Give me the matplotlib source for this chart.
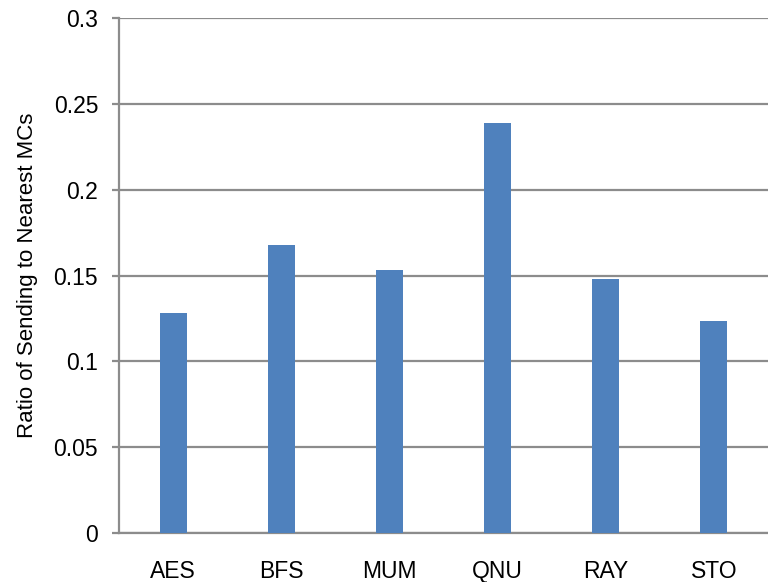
import matplotlib.pyplot as plt

plt.rcParams['font.family'] = ['Liberation Sans', 'DejaVu Sans']

benchmarks = ['AES', 'BFS', 'MUM', 'QNU', 'RAY', 'STO']
ratios = [0.128, 0.168, 0.153, 0.239, 0.148, 0.1235]
yticks = [0, 0.05, 0.1, 0.15, 0.2, 0.25, 0.3]
ytick_labels = ['0', '0.05', '0.1', '0.15', '0.2', '0.25', '0.3']

fig = plt.figure(figsize=(7.68, 5.82), dpi=100)
ax = fig.add_axes([0.155, 0.084, 0.845, 0.885])

grid_col = '#8c8c8c'
ax.bar(range(len(benchmarks)), ratios, width=0.25, color='#4f81bd', zorder=3)

ax.set_xlim(-0.5, len(benchmarks) - 0.5)
ax.set_ylim(0, 0.3)
ax.set_yticks(yticks)
ax.set_yticklabels(ytick_labels)
ax.set_xticks(range(len(benchmarks)))
ax.set_xticklabels(benchmarks)
ax.yaxis.grid(True, color=grid_col, linewidth=1.6, zorder=0)
ax.set_axisbelow(True)

for side in ['top', 'right']:
    ax.spines[side].set_visible(False)
ax.spines['left'].set_color(grid_col)
ax.spines['left'].set_linewidth(1.6)
ax.spines['bottom'].set_color(grid_col)
ax.spines['bottom'].set_linewidth(1.6)

ax.tick_params(axis='y', length=5, width=1.6, color=grid_col, labelsize=16.5, pad=10)
ax.tick_params(axis='x', length=0, labelsize=16.5, pad=19)
ax.set_ylabel('Ratio of Sending to Nearest MCs', fontsize=16, labelpad=11)

plt.savefig('out.png', dpi=100)
